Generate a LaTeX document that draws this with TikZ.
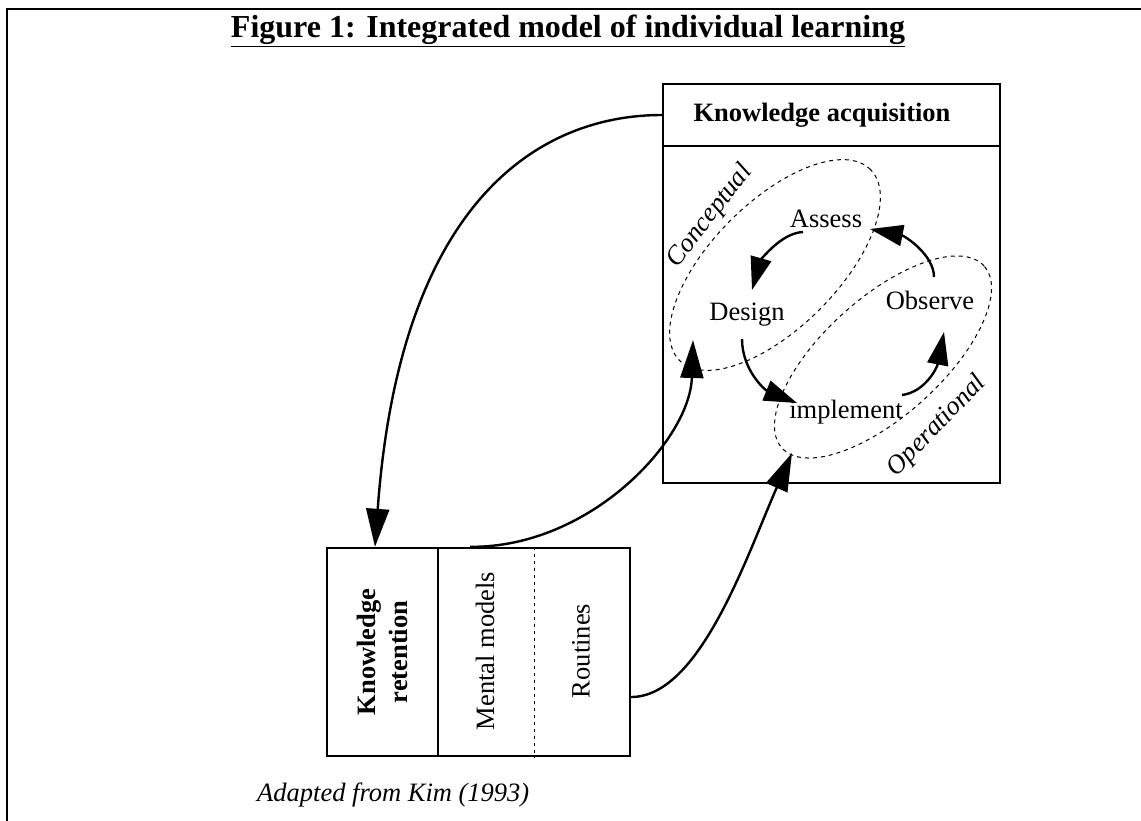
\documentclass[tikz,border=0pt]{standalone}
\usepackage{fontspec}
\setmainfont{Liberation Serif}
\usetikzlibrary{arrows.meta,shapes.geometric}
\begin{document}
\begin{tikzpicture}[x=1pt,y=-1pt,
  box/.style={draw,line width=2.4pt,inner sep=0pt},
  lbl/.style={font=\fontsize{26.5}{30}\selectfont,inner sep=0pt},
  blbl/.style={font=\fontsize{26.5}{32}\selectfont\bfseries,inner sep=0pt,align=center},
  ilbl/.style={font=\fontsize{26.5}{30}\selectfont\itshape,inner sep=0pt},
  zone/.style={draw,ellipse,dash pattern=on 4pt off 4pt,line width=1pt,inner sep=0pt},
  bigarrow/.style={line width=2.4pt,-{Triangle[length=38pt,width=23pt]}},
  smallarrow/.style={line width=2.4pt,-{Triangle[length=33pt,width=21pt]}},
  divider/.style={dash pattern=on 3pt off 4pt,line width=1pt},
]
\useasboundingbox (0,0) rectangle (1141,820);
\fill[white] (0,0) rectangle (1141,820);
\draw[line width=2.6pt] (7,830) -- (7,9) -- (1150,9);

\node[font=\fontsize{32}{36}\selectfont\bfseries,inner sep=0pt] (title) at (568,31)
  {\underline{Figure 1: Integrated model of individual learning}};

% knowledge acquisition
\node[box,minimum width=337pt,minimum height=62pt,font=\fontsize{26.5}{30}\selectfont\bfseries] (kahead) at (831.5,115)
  {\hspace*{-19pt}Knowledge acquisition};
\node[box,minimum width=337pt,minimum height=337pt] (kabody) at (831.5,314.5) {};

\node[zone,minimum width=270pt,minimum height=126pt,rotate=45] (concept) at (775,265) {};
\node[zone,minimum width=272pt,minimum height=118pt,rotate=42] (oper) at (883,357) {};

\node[ilbl,rotate=52] (conc) at (710,216) {Conceptual};
\node[ilbl,rotate=46] (operl) at (937,426) {Operational};

\node[lbl] (assess) at (826,219) {Assess};
\node[lbl] (design) at (747,315) {Design};
\node[lbl] (observe) at (930,300) {Observe};
\node[lbl] (impl) at (846,412) {implement};

\draw[smallarrow] ([shift={(-23,13)}]assess.center) .. controls (780,233) and (760,262) .. ([shift={(5,-25)}]design.center);
\draw[smallarrow] ([shift={(-5,24)}]design.center) .. controls (742,370) and (765,390) .. ([shift={(-49,-9)}]impl.center);
\draw[smallarrow] ([shift={(56,-17)}]impl.center) .. controls (925,392) and (937,368) .. ([shift={(14,32)}]observe.center);
\draw[smallarrow] ([shift={(4,-23)}]observe.center) .. controls (934,255) and (905,236) .. ([shift={(44,10)}]assess.center);

% knowledge retention
\node[box,minimum width=111pt,minimum height=208pt] (kr) at (382.5,652) {};
\node[box,minimum width=192pt,minimum height=208pt] (krs) at (534,652) {};
\draw[divider] (krs.north) -- (krs.south);
\node[blbl,rotate=90] (krt) at (kr.center) {Knowledge\\retention};
\node[lbl,rotate=90] (mm) at (485,651) {Mental models};
\node[lbl,rotate=90] (rt) at (581,651) {Routines};

\coordinate (cin) at (693,340);
\coordinate (oin) at (792,453);

\draw[bigarrow] (kahead.west) .. controls (540,115) and (400,200) .. ([xshift=-7.5pt]kr.north);
\draw[bigarrow] ([xshift=-64pt]krs.north) .. controls (590,548) and (690,440) .. (cin);
\draw[bigarrow] ([yshift=-45pt]krs.east) .. controls (700,697) and (747,555) .. (oin);

\node[ilbl,anchor=west] (src) at (257,795) {Adapted from Kim (1993)};
\end{tikzpicture}
\end{document}
